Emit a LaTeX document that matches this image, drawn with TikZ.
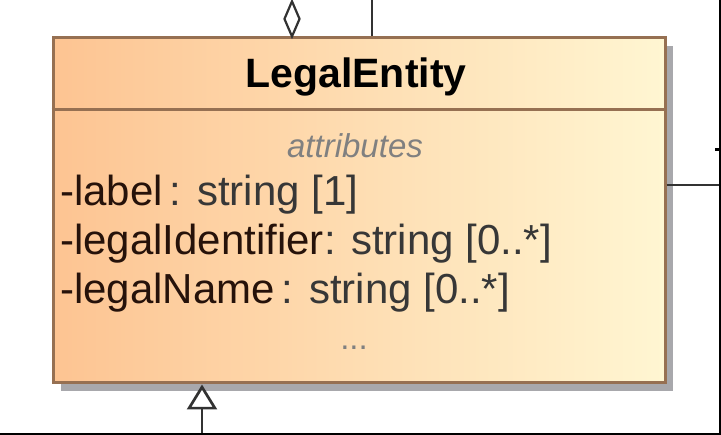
\documentclass[tikz,border=0pt]{standalone}
\usepackage{fontspec}
\setmainfont{Liberation Sans}
\usetikzlibrary{positioning, shapes.geometric, arrows.meta, shadows}
\definecolor{boxleft}{RGB}{253,196,146}
\definecolor{boxright}{RGB}{255,246,210}
\definecolor{boxedge}{RGB}{150,112,82}
\definecolor{shadowgray}{RGB}{168,168,172}
\definecolor{attrname}{RGB}{38,18,10}
\definecolor{attrtype}{RGB}{55,55,55}
\definecolor{linegray}{RGB}{50,50,50}

\begin{document}
\begin{tikzpicture}[x=1pt, y=-1pt,
  classbox/.style={draw=boxedge, line width=3pt, left color=boxleft, right color=boxright,
    minimum width=612pt, minimum height=345pt, inner sep=0pt,
    drop shadow={shadow xshift=8pt, shadow yshift=-8pt, fill=shadowgray, opacity=1}},
  title/.style={font=\fontsize{41}{48}\selectfont\bfseries, text=black, inner sep=0pt},
  section/.style={font=\fontsize{33}{40}\selectfont\itshape, text=black!50, inner sep=0pt},
  attr/.style={font=\fontsize{42}{48}\selectfont, text=attrtype, inner sep=0pt,
    text height=36pt, text depth=12.5pt},
  conn/.style={draw=linegray, line width=2.7pt},
  agg/.style={diamond, draw=linegray, line width=2.2pt, fill=white, minimum width=16pt,
    minimum height=36pt, inner sep=0pt}]
  \useasboundingbox (0,0) rectangle (721,435);
  % class box
  \node[classbox] (cls) at (359,210.5) {};
  \draw[boxedge, line width=3pt] (cls.west |- 0,110) -- (cls.east |- 0,110);
  \node[title, anchor=base] (name) at (356,88) {LegalEntity};
  \node[section, anchor=base] (attrs) at (355,158) {attributes};
  \node[attr, anchor=base west] (a1) at (60,206) {\textcolor{attrname}{-label}\,: string [1]};
  \node[attr, below=0pt of a1.south west, anchor=north west] (a2) {\textcolor{attrname}{-legalIdentifier}: string [0..*]};
  \node[attr, below=0pt of a2.south west, anchor=north west] (a3) {\textcolor{attrname}{-legalName}\,: string [0..*]};
  \node[section, font=\fontsize{33}{40}\selectfont, anchor=base] (more) at (354,350) {...};
  % connectors
  \node[agg, anchor=south] (agg) at (292,38) {};
  \coordinate (aggtop) at (292,0);
  \draw[conn] (aggtop) -- (agg.north);
  \coordinate (assoc) at (372,0);
  \draw[conn] (assoc) -- (assoc |- cls.north);
  \coordinate (sub) at (202,435);
  \draw[conn, -{Triangle[width=30pt, length=25pt, fill=white]}] (sub) -- (sub |- cls.south);
  \coordinate (rlink) at (719,185);
  \draw[conn] (cls.east |- rlink) -- (rlink);
  % frame edges
  \draw[black, line width=2.5pt] (720,0) -- (720,434) -- (0,434);
  \draw[black, line width=3pt] (715,150) -- (720,150);
\end{tikzpicture}
\end{document}
